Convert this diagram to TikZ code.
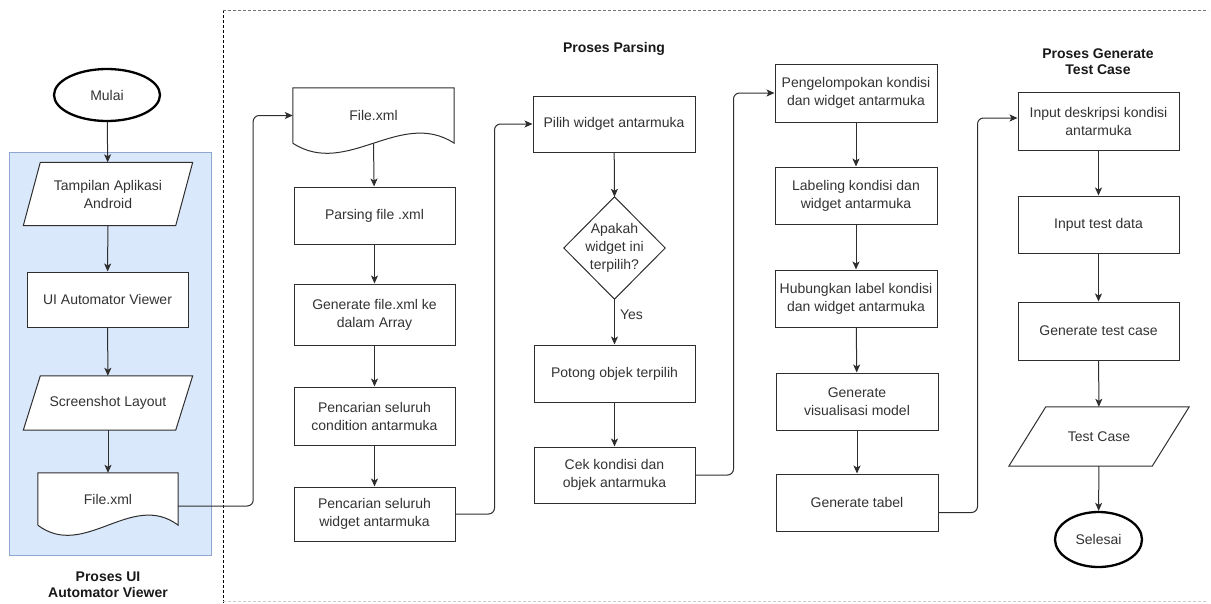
\documentclass[tikz,border=0pt]{standalone}
\usepackage{fontspec}
\setmainfont{Liberation Sans}
\usetikzlibrary{shapes.geometric,arrows.meta,calc}
\definecolor{linec}{HTML}{2E2E2E}
\definecolor{txtc}{HTML}{333333}
\definecolor{bluefill}{HTML}{DAE8FC}
\definecolor{blueline}{HTML}{8EA8CF}
\begin{document}
\begin{tikzpicture}[x=1pt,y=-1pt,
  every node/.style={font=\fontsize{14}{18}\selectfont, text=txtc, inner sep=0pt, align=center},
  proc/.style={draw=linec, fill=white, line width=1pt, rectangle, minimum width=161pt},
  shell/.style={rectangle, minimum width=#1},
  term/.style={draw=black, fill=white, line width=2.3pt, ellipse},
  conn/.style={draw=linec, line width=1pt, -{Stealth[length=8pt,width=7pt,inset=2pt]}},
  elbow/.style={conn, rounded corners=6pt},
  ttl/.style={font=\fontsize{14}{16}\selectfont\bfseries, text=black!90},
  frm/.style={line width=0.9pt, dash pattern=on 2.5pt off 2.5pt}
]
\useasboundingbox (0,0) rectangle (1211,603);

% frame
\draw[frm, black] (223,10) -- (223,603);
\draw[frm, black!55] (223,10) -- (1208,10);
\draw[frm, black!20] (223,601) -- (1208,601);

% blue lane
\draw[fill=bluefill, draw=blueline, line width=0.8pt] (9,152) rectangle (211,555);

% left column
\node[term, minimum width=106pt, minimum height=52pt] (mulai) at (107,95) {Mulai};
\node[shell=152pt, minimum height=63pt] (tampil) at (108,194) {};
\node[proc, minimum height=55pt] (uiav) at (107.5,299.5) {UI Automator Viewer};
\node[shell=152pt, minimum height=54pt] (screen) at (108,403) {};
\node[shell=140pt, minimum height=52pt] (file1) at (108,499) {};
\node[ttl] (t1) at (108,585) {Proses UI\\Automator Viewer};

\draw[linec, line width=1pt, fill=white] ($(tampil.north west)+(8.5,0)$) -- ($(tampil.north east)+(8.5,0)$) -- ($(tampil.south east)+(-8.5,0)$) -- ($(tampil.south west)+(-8.5,0)$) -- cycle;
\node at (tampil) {Tampilan Aplikasi\\Android};
\draw[linec, line width=1pt, fill=white] ($(screen.north west)+(8.5,0)$) -- ($(screen.north east)+(8.5,0)$) -- ($(screen.south east)+(-8.5,0)$) -- ($(screen.south west)+(-8.5,0)$) -- cycle;
\node at (screen) {Screenshot Layout};
\draw[linec, line width=1pt, fill=white] (file1.south west) -- (file1.north west) -- (file1.north east) -- (file1.south east)
  .. controls +(-46.7,-35) and +(46.7,35) .. (file1.south west);
\node at (file1) {File.xml};

% parsing column 1
\node[shell=161pt, minimum height=55pt] (file2) at (373.5,115.5) {File.xml};
\draw[linec, line width=1pt] (file2.south west) -- (file2.north west) -- (file2.north east) -- (file2.south east)
  .. controls +(-53.7,-35) and +(53.7,35) .. (file2.south west);
\node[proc, minimum height=57pt] (parse) at (374.5,215.5) {Parsing file .xml};
\node[proc, minimum height=61pt] (gen) at (374.5,314.5) {Generate file.xml ke\\dalam Array};
\node[proc, minimum height=58pt] (cond) at (374.5,416) {Pencarian seluruh\\condition antarmuka};
\node[proc, minimum height=54pt] (widg) at (374.5,514) {Pencarian seluruh\\widget antarmuka};

% parsing column 2
\node[ttl] (t2) at (614,49) {Proses Parsing};
\node[proc, minimum width=162pt, minimum height=56pt] (pilih) at (614,124) {Pilih widget antarmuka};
\node[shell=101pt, minimum height=102pt] (dec) at (614.5,248) {Apakah\\widget ini\\terpilih?};
\draw[linec, line width=1pt] (dec.north) -- (dec.east) -- (dec.south) -- (dec.west) -- cycle;
\node[proc, minimum height=57pt] (potong) at (614.5,373.5) {Potong objek terpilih};
\node[proc, minimum height=56pt] (cek) at (614.5,475) {Cek kondisi dan\\objek antarmuka};

% parsing column 3
\node[proc, minimum width=162pt, minimum height=58pt] (kel) at (856,93) {Pengelompokan kondisi\\dan widget antarmuka};
\node[proc, minimum width=162pt, minimum height=57pt] (lab) at (856,195.5) {Labeling kondisi dan\\widget antarmuka};
\node[proc, minimum width=162pt, minimum height=57pt] (hub) at (856,298.5) {Hubungkan label kondisi\\dan widget antarmuka};
\node[proc, minimum width=162pt, minimum height=57pt] (vis) at (857,401.5) {Generate\\visualisasi model};
\node[proc, minimum width=162pt, minimum height=57pt] (tab) at (857,502.5) {Generate tabel};

% generate test case column
\node[ttl] (t3) at (1098,62) {Proses Generate\\Test Case};
\node[proc, minimum height=58pt] (indesk) at (1098.5,121) {Input deskripsi kondisi\\antarmuka};
\node[proc, minimum height=57pt] (indata) at (1098.5,224.5) {Input test data};
\node[proc, minimum height=58pt] (gentc) at (1098.5,331) {Generate test case};
\node[shell=143pt, minimum height=59pt] (tc) at (1099,436.5) {Test Case};
\draw[linec, line width=1pt] ($(tc.north west)+(18.5,0)$) -- ($(tc.north east)+(18.5,0)$) -- ($(tc.south east)+(-18.5,0)$) -- ($(tc.south west)+(-18.5,0)$) -- cycle;
\node[term, minimum width=87pt, minimum height=55pt] (sel) at (1098.5,539.5) {Selesai};

% connectors
\draw[conn] (mulai) -- (tampil);
\draw[conn] (tampil) -- (uiav);
\draw[conn] (uiav) -- (screen);
\draw[conn] (screen) -- (file1);
\draw[elbow] ($(file1.east)+(0,7)$) -- ++(75,0) |- (file2.west);
\draw[conn] (file2.south) -- (parse);
\draw[conn] (parse) -- (gen);
\draw[conn] (gen) -- (cond);
\draw[conn] (cond) -- (widg);
\draw[elbow] (widg.east) -- ++(39,0) |- (pilih.west);
\draw[conn] (pilih) -- (dec.north);
\draw[conn] (dec.south) -- node[pos=0.35, right=5pt] {Yes} (potong);
\draw[conn] (potong) -- (cek);
\draw[elbow] (cek.east) -- ++(38,0) |- (kel.west);
\draw[conn] (kel) -- (lab);
\draw[conn] (lab) -- (hub);
\draw[conn] (hub) -- (vis);
\draw[conn] (vis) -- (tab);
\draw[elbow] ($(tab.east)+(0,10)$) -- ++(39,0) |- ($(indesk.west)+(0,-3)$);
\draw[conn] (indesk) -- (indata);
\draw[conn] (indata) -- (gentc);
\draw[conn] (gentc) -- (tc);
\draw[conn] (tc) -- (sel);
\end{tikzpicture}
\end{document}
